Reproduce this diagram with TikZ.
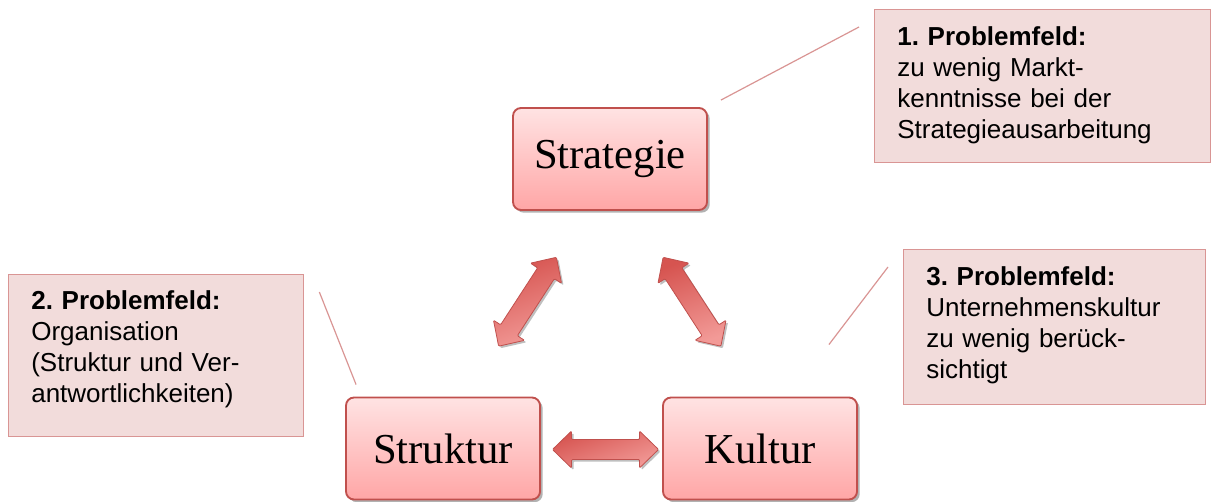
\documentclass[tikz,border=0pt]{standalone}
\usepackage{fontspec}
\setmainfont{Liberation Serif}
\newfontfamily\notefont{Liberation Sans}
\usetikzlibrary{calc,shadows}

\definecolor{boxred}{HTML}{C0504D}
\definecolor{boxtop}{HTML}{FFE3E3}
\definecolor{boxbottom}{HTML}{FFA6A6}
\definecolor{notefill}{HTML}{F2DCDB}
\definecolor{notered}{HTML}{D99594}
\definecolor{arrowdark}{HTML}{D65450}
\definecolor{arrowlight}{HTML}{F29A97}

\tikzset{
  mainbox/.style={rounded corners=6pt, draw=boxred, line width=1.4pt,
    top color=boxtop, bottom color=boxbottom,
    minimum width=145.5pt, minimum height=76.5pt,
    font=\fontsize{32}{36}\selectfont,
    drop shadow={shadow xshift=2pt, shadow yshift=-2pt, opacity=0.3, fill=black}},
  notebox/.style={draw=notered, line width=1pt, fill=notefill,
    anchor=north west, align=left, inner ysep=0pt, inner xsep=17pt,
    font=\notefont\fontsize{19.5}{23.25}\selectfont\frenchspacing},
  noteline/.style={draw=notered, line width=0.9pt},
  arrowbody/.style={draw=boxred, line width=0.6pt, rounded corners=0.8pt,
    left color=arrowdark, right color=arrowlight, shading angle=20,
    drop shadow={shadow xshift=1.5pt, shadow yshift=-1.5pt, opacity=0.25, fill=black}},
  % block arrow with a head at both ends, 106px long
  pics/dblarrow/.style={code={
    \draw[arrowbody] (-53,0) -- (-34,18.5) -- (-34,10) -- (34,10) -- (34,18.5)
      -- (53,0) -- (34,-18.5) -- (34,-10) -- (-34,-10) -- (-34,-18.5) -- cycle;
  }}
}

\begin{document}
\begin{tikzpicture}[x=0.75pt, y=-0.75pt]
    \useasboundingbox (0,0) rectangle (1211,502);

    % The three fields
    \node[mainbox] (strat)  at (610,159)   {Strategie};
    \node[mainbox] (strukt) at (443,448.5) {Struktur};
    \node[mainbox] (kult)   at (760,448.5) {Kultur};

    % Arrows between the fields
    \coordinate (a1) at ($(strat)!0.5!(strukt)+(1,-2)$);
    \coordinate (a2) at ($(strat)!0.5!(kult)+(7,-2)$);
    \coordinate (a3) at ($(strukt)!0.5!(kult)+(4,1)$);
    \pic[rotate=57]  at (a1) {dblarrow};
    \pic[rotate=-57] at (a2) {dblarrow};
    \pic             at (a3) {dblarrow};

    % Problem notes
    \node[notebox, text width=218pt, text height=27pt, text depth=87.75pt] (pf1) at (874,9)
        {\textbf{1. Problemfeld:}\\zu wenig Markt-\\kenntnisse bei der\\Strategieausarbeitung};
    \node[notebox, text width=187.25pt, text height=26.25pt, text depth=95.25pt] (pf2) at (8,274)
        {\textbf{2. Problemfeld:}\\Organisation\\(Struktur und Ver-\\antwortlichkeiten)};
    \node[notebox, text width=192.5pt, text height=27pt, text depth=89.25pt] (pf3) at (903,249)
        {\textbf{3. Problemfeld:}\\Unternehmenskultur\\zu wenig berück-\\sichtigt};

    % Lines from the notes to the fields
    \coordinate (l1a) at ($(pf1.north west)+(-15,18)$);
    \coordinate (l1b) at ($(strat.north east)+(13,-7)$);
    \coordinate (l2a) at ($(pf2.north east)+(15,18)$);
    \coordinate (l2b) at ($(strukt.north west)+(11,-12)$);
    \coordinate (l3a) at ($(pf3.north west)+(-15,18)$);
    \coordinate (l3b) at ($(kult.north east)+(-29,-52)$);
    \draw[noteline] (l1a) -- (l1b);
    \draw[noteline] (l2a) -- (l2b);
    \draw[noteline] (l3a) -- (l3b);
\end{tikzpicture}
\end{document}
